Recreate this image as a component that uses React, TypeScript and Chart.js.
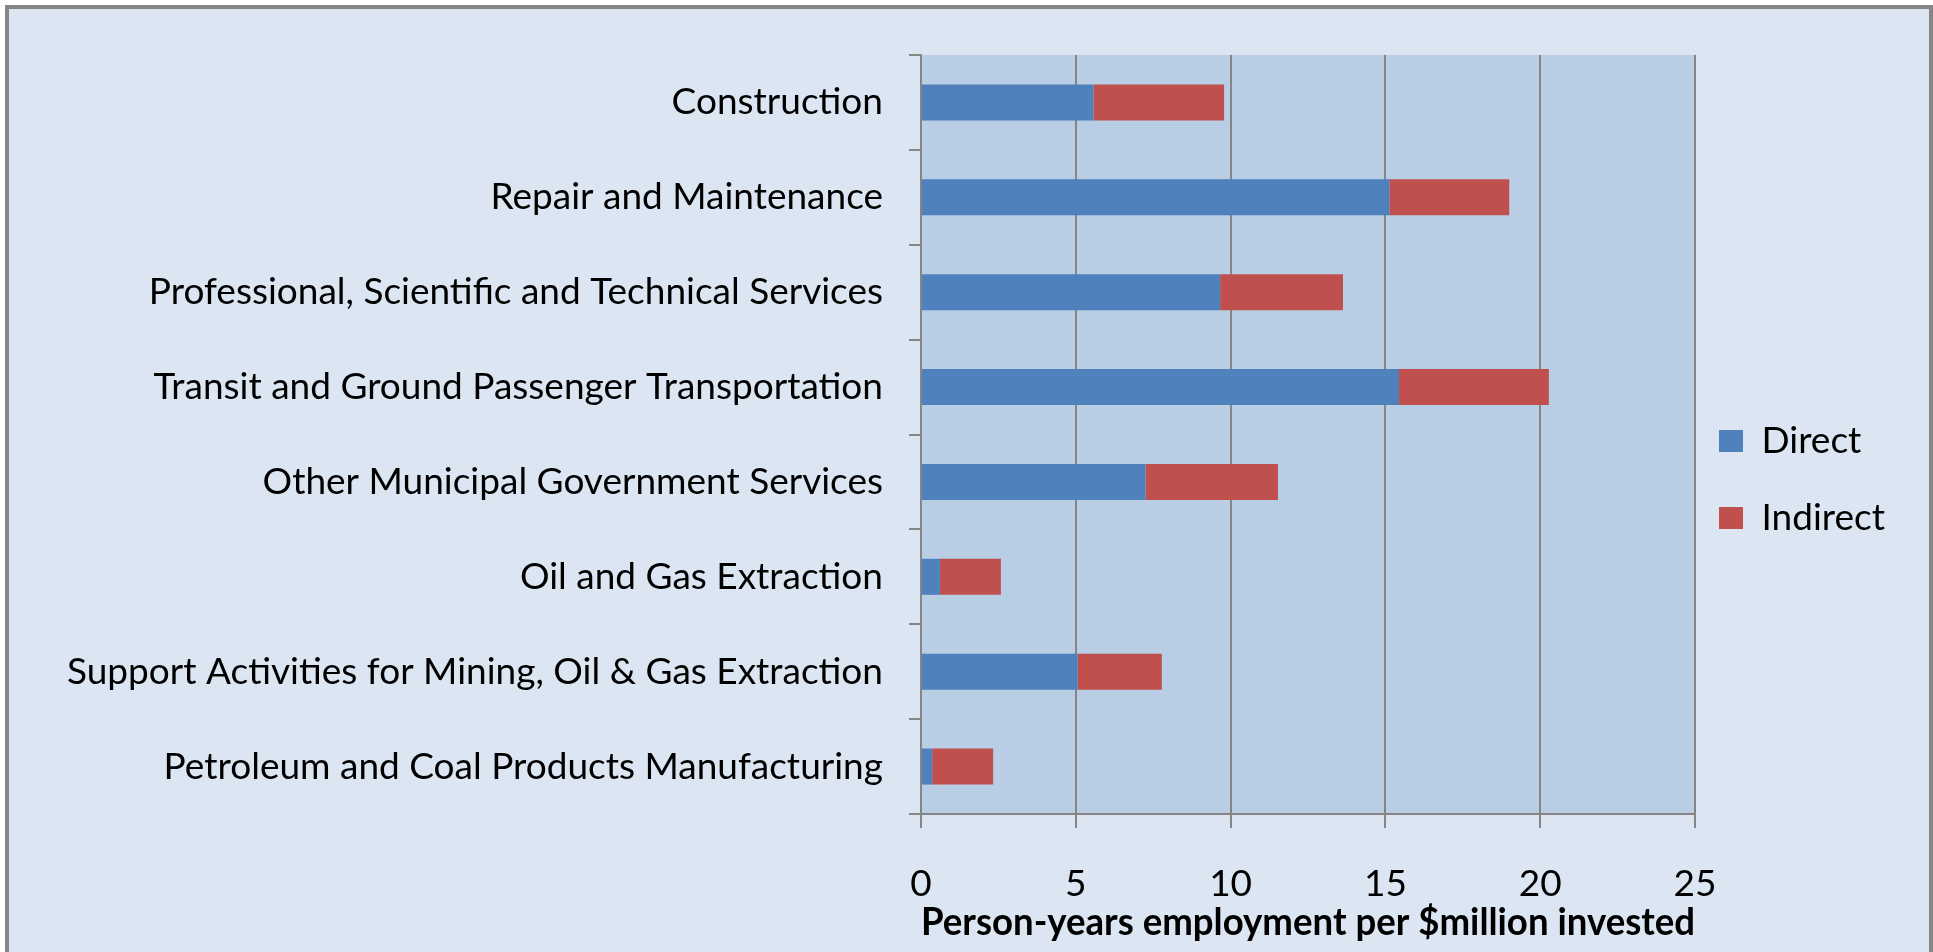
import React, { useEffect, useRef } from "react";
import { Chart, registerables } from "chart.js";

Chart.register(...registerables);

const categories = [
  "Construction",
  "Repair and Maintenance",
  "Professional, Scientific and Technical Services",
  "Transit and Ground Passenger Transportation",
  "Other Municipal Government Services",
  "Oil and Gas Extraction",
  "Support Activities for Mining, Oil & Gas Extraction",
  "Petroleum and Coal Products Manufacturing",
];
const seriesNames = ["Direct", "Indirect"];
const directValues = [5.57, 15.13, 9.66, 15.44, 7.25, 0.61, 5.06, 0.36];
const indirectValues = [4.22, 3.87, 3.97, 4.84, 4.28, 1.97, 2.72, 1.97];
const xTicks = [0, 5, 10, 15, 20, 25];
const xTitle = "Person-years employment per $million invested";

const W = 1933;
const H = 952;
const FONT = "Lato";
const LABEL_SIZE = 37;
const TICK_SIZE = 37;
const TITLE_SIZE = 38;
const LEG_SIZE = 37;
const LEG_PAD = 40;
const LEG_BOX_W = 24;
const PLOT_LEFT = 921;
const PLOT_RIGHT = 1695;
const PLOT_TOP = 55;
const PLOT_BOTTOM = 814;
const GRID = "#868686";

const plotBg = {
  id: "plotBg",
  beforeDraw(chart: any) {
    const { ctx, chartArea } = chart;
    ctx.save();
    ctx.fillStyle = "#B9CDE5";
    ctx.fillRect(chartArea.left, chartArea.top, chartArea.right - chartArea.left, chartArea.bottom - chartArea.top);
    ctx.restore();
  },
};

const legendShift = {
  id: "legendShift",
  afterLayout(chart: any) {
    const lg = chart.legend;
    if (lg) {
      lg.left -= 16;
      lg.right -= 16;
      lg.top -= 24;
      lg.bottom -= 24;
    }
  },
};

export default function App() {
  const ref = useRef<HTMLCanvasElement | null>(null);
  useEffect(() => {
    if (!ref.current) return;
    const m = document.createElement("canvas").getContext("2d")!;
    m.font = `${LEG_SIZE}px ${FONT}`;
    const tw = Math.max(...seriesNames.map((n) => m.measureText(n).width));
    const legendW = LEG_PAD + LEG_BOX_W + LEG_SIZE / 2 + tw + 10;
    const padRight = W - PLOT_RIGHT - legendW;

    const chart = new Chart(ref.current, {
      type: "bar",
      data: {
        labels: categories,
        datasets: [
          { label: seriesNames[0], data: directValues, backgroundColor: "#4F81BD", barPercentage: 0.38, categoryPercentage: 1 },
          { label: seriesNames[1], data: indirectValues, backgroundColor: "#C0504D", barPercentage: 0.38, categoryPercentage: 1 },
        ],
      },
      plugins: [plotBg, legendShift],
      options: {
        indexAxis: "y",
        responsive: false,
        animation: false,
        layout: { padding: { top: PLOT_TOP, left: 0, right: padRight, bottom: 0 } },
        plugins: {
          tooltip: { enabled: false },
          legend: {
            position: "right",
            align: "center",
            labels: {
              boxWidth: LEG_BOX_W,
              boxHeight: 22,
              padding: LEG_PAD,
              color: "#000",
              font: { family: FONT, size: LEG_SIZE },
            },
          },
        },
        scales: {
          x: {
            stacked: true,
            min: 0,
            max: 25,
            afterBuildTicks: (scale: any) => {
              scale.ticks = xTicks.map((v) => ({ value: v }));
            },
            afterFit: (scale: any) => {
              scale.height = H - PLOT_BOTTOM;
            },
            grid: { color: GRID, lineWidth: 2, tickLength: 14, drawTicks: true },
            border: { color: GRID, width: 2 },
            ticks: { color: "#000", font: { family: FONT, size: TICK_SIZE }, padding: 34, maxRotation: 0 },
            title: {
              display: true,
              text: xTitle,
              color: "#000",
              font: { family: FONT, size: TITLE_SIZE, weight: "bold" },
              padding: { top: 0, bottom: 6 },
            },
          },
          y: {
            stacked: true,
            afterFit: (scale: any) => {
              scale.width = PLOT_LEFT;
            },
            grid: { drawOnChartArea: false, color: GRID, lineWidth: 2, tickLength: 12, offset: true },
            border: { color: GRID, width: 2 },
            ticks: { color: "#000", font: { family: FONT, size: LABEL_SIZE }, padding: 26, autoSkip: false },
          },
        },
      },
    });
    return () => chart.destroy();
  }, []);

  return (
    <div style={{ position: "fixed", left: 0, top: 0, width: W, height: H, overflow: "hidden", background: "#fff" }}>
      <div
        style={{
          position: "absolute",
          left: 5,
          top: 5,
          width: 1928,
          height: 980,
          boxSizing: "border-box",
          border: "4px solid #868686",
          background: "#DCE6F2",
        }}
      />
      <canvas ref={ref} width={W} height={H} style={{ position: "absolute", left: 0, top: 0, width: W, height: H }} />
    </div>
  );
}
